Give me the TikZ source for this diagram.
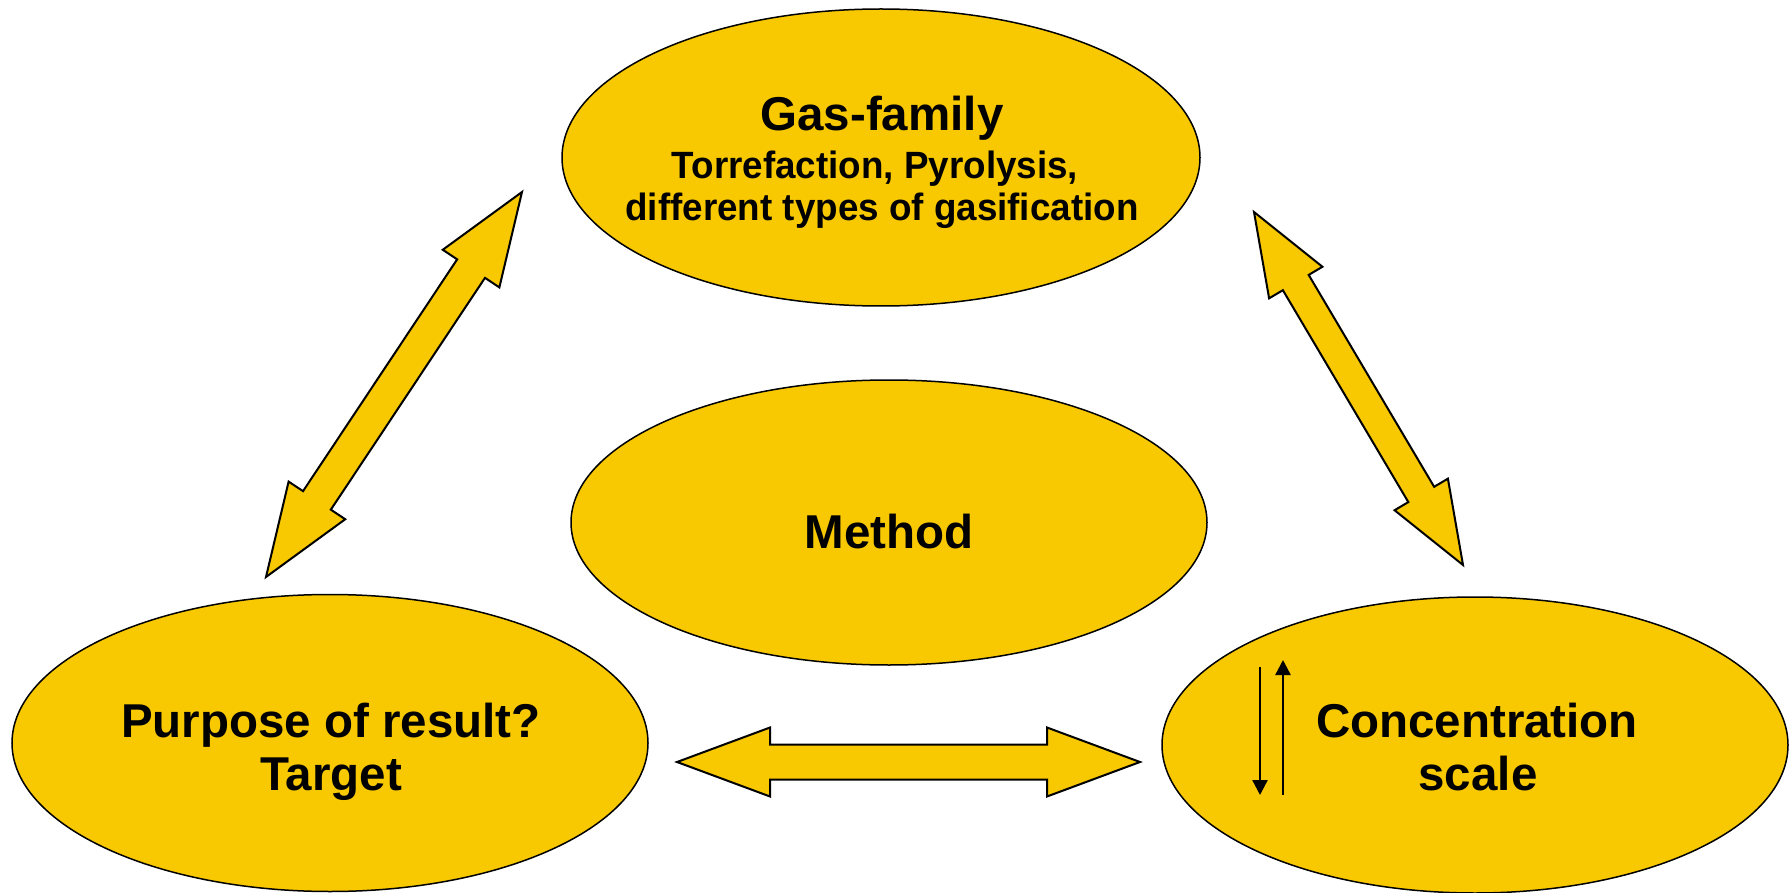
\documentclass[tikz,border=0pt]{standalone}
\usepackage{fontspec}
\usepackage{graphicx}
\setmainfont{Liberation Sans}
\usetikzlibrary{shapes.geometric,calc,arrows.meta}
\definecolor{gold}{RGB}{248,200,0}
\newcommand\dblblockarrow[5]{%
  \draw[blockarrow] (#1)
    -- ($(#1)!#3!(#2)!#4!90:(#2)$)
    -- ($(#1)!#3!(#2)!#5!90:(#2)$)
    -- ($(#2)!#3!(#1)!#5!-90:(#1)$)
    -- ($(#2)!#3!(#1)!#4!-90:(#1)$)
    -- (#2)
    -- ($(#2)!#3!(#1)!#4!90:(#1)$)
    -- ($(#2)!#3!(#1)!#5!90:(#1)$)
    -- ($(#1)!#3!(#2)!#5!-90:(#2)$)
    -- ($(#1)!#3!(#2)!#4!-90:(#2)$)
    -- cycle;}
\newcommand\narrowtext[1]{\scalebox{0.968}[1]{#1}}
\tikzset{
  oval/.style={ellipse, draw=black, line width=0.75pt, fill=gold, inner sep=0pt},
  blockarrow/.style={draw=black, line width=1pt, fill=gold, line join=miter},
  big/.style={font=\fontsize{23.75}{26.5}\selectfont\bfseries, inner sep=0pt, anchor=base},
  small/.style={font=\fontsize{19}{21}\selectfont\bfseries, inner sep=0pt, anchor=base},
  thinarrow/.style={line width=1.2pt, -{Triangle[length=7.5pt,width=7.5pt]}}
}
\begin{document}
\begin{tikzpicture}[x=0.5pt, y=-0.5pt]
\useasboundingbox (0,0) rectangle (1789,893);
% ellipses
\node[oval, minimum width=319pt, minimum height=148.5pt] (gas) at (881,157.5) {};
\node[oval, minimum width=318pt, minimum height=142.5pt] (method) at (889,522.5) {};
\node[oval, minimum width=318pt, minimum height=148.5pt] (purpose) at (330,743) {};
\node[oval, minimum width=313pt, minimum height=148pt] (conc) at (1475,745) {};
% texts
\node[big] (gast) at (882,131) {Gas-family};
\node[small] (gast2) at (875,179) {\narrowtext{Torrefaction, Pyrolysis,}};
\node[small] (gast3) at (882,221) {\narrowtext{different types of gasification}};
\node[big] (methodt) at (889,548) {Method};
\node[big] (purt) at (331,737) {Purpose of result?};
\node[big] (purt2) at (331,790) {Target};
\node[big] (conct) at (1477,737) {Concentration};
\node[big] (conct2) at (1478,790) {scale};
% block arrows
\coordinate (h1) at (677,762);
\coordinate (h2) at (1140,762);
\coordinate (l1) at (266,577);
\coordinate (l2) at (522,192);
\coordinate (r1) at (1254,212);
\coordinate (r2) at (1463,565);
\dblblockarrow{h1}{h2}{46.5pt}{17.25pt}{8.75pt}
\dblblockarrow{l1}{l2}{46pt}{17pt}{8.35pt}
\dblblockarrow{r1}{r2}{41pt}{15.5pt}{7.5pt}
% small arrows
\coordinate (d1) at (1260,667);
\coordinate (d2) at (1260,795);
\coordinate (u1) at (1283,795);
\coordinate (u2) at (1283,660);
\draw[thinarrow] (d1) -- (d2);
\draw[thinarrow] (u1) -- (u2);
\end{tikzpicture}
\end{document}
